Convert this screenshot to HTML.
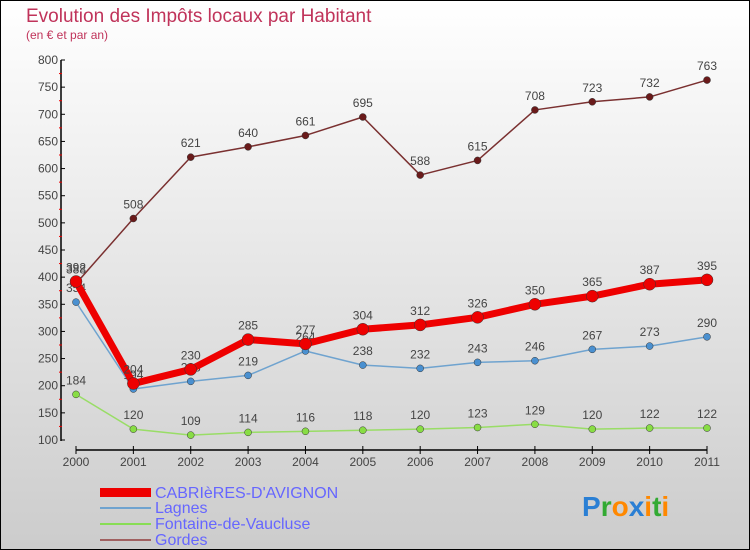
<!DOCTYPE html>
<html><head><meta charset="utf-8"><style>
body{margin:0}
#c{width:750px;height:550px;position:relative;overflow:hidden;font-family:"Liberation Sans",sans-serif}
</style></head><body>
<div id="c">
<svg id="s" width="750" height="550" xmlns="http://www.w3.org/2000/svg">
<defs><linearGradient id="bg" x1="0" y1="0" x2="0" y2="1"><stop offset="0" stop-color="#ffffff"/><stop offset="1" stop-color="#cccccc"/></linearGradient></defs>
<rect x="0.5" y="0.5" width="749" height="549" fill="url(#bg)" stroke="#000"/>
<text x="26" y="22" font-size="19" fill="#c0335a">Evolution des Impôts locaux par Habitant</text>
<text x="26" y="39" font-size="12" fill="#c0335a">(en € et par an)</text>
<g id="plot"></g>
<g id="legend">
<rect x="100" y="488" width="51" height="9" fill="#e00"/>
<text x="155" y="498" font-size="16" fill="#6666ff">CABRIèRES-D'AVIGNON</text>
<rect x="100" y="507" width="51" height="2" fill="#6fa3cf"/>
<text x="155" y="513" font-size="16" fill="#6666ff">Lagnes</text>
<rect x="100" y="523" width="51" height="2" fill="#88dd55"/>
<text x="155" y="529" font-size="16" fill="#6666ff">Fontaine-de-Vaucluse</text>
<rect x="100" y="539" width="51" height="2" fill="#a06060"/>
<text x="155" y="545" font-size="16" fill="#6666ff">Gordes</text>
</g>
<text x="582" y="516" font-size="28" font-weight="bold"><tspan fill="#2a7fd4">P</tspan><tspan fill="#33aa33">r</tspan><tspan fill="#ff8800">o</tspan><tspan fill="#2a7fd4">x</tspan><tspan fill="#ff8800">i</tspan><tspan fill="#33aa33">t</tspan><tspan fill="#ff8800">i</tspan></text>
</svg>
</div>
<script>
const years=["2000","2001","2002","2003","2004","2005","2006","2007","2008","2009","2010","2011"];
const yTicks=[100,150,200,250,300,350,400,450,500,550,600,650,700,750,800];
const cabrieres=[392,204,230,285,277,304,312,326,350,365,387,395];
const lagnes=[354,194,208,219,264,238,232,243,246,267,273,290];
const fontaine=[184,120,109,114,116,118,120,123,129,120,122,122];
const gordes=[388,508,621,640,661,695,588,615,708,723,732,763];
const NS="http://www.w3.org/2000/svg";
const g=document.getElementById('plot');
const X=i=>76+i*(707-76)/11;
const Y=v=>440-(v-100)*380/700;
function el(t,a,p){const e=document.createElementNS(NS,t);for(const k in a)e.setAttribute(k,a[k]);(p||g).appendChild(e);return e;}
let ax=el('line',{x1:61,y1:60,x2:61,y2:441,stroke:'#000','stroke-width':1.5});


let bx=el('line',{x1:76,y1:450,x2:707,y2:450,stroke:'#000','stroke-width':1.5});


yTicks.forEach((v,i)=>{
 el('line',{x1:61,y1:Y(v),x2:65,y2:Y(v),stroke:'#000'});
 if(i<yTicks.length-1)el('line',{x1:59,y1:Y(v+25),x2:62,y2:Y(v+25),stroke:'#e00'});
 const t=el('text',{x:58,y:Y(v)+4,'font-size':12,fill:'#444','text-anchor':'end'});t.textContent=v;
 
 
});
years.forEach((y,i)=>{
 el('line',{x1:X(i),y1:446,x2:X(i),y2:454,stroke:'#000'});
 const t=el('text',{x:X(i),y:466,'font-size':12,fill:'#444','text-anchor':'middle'});t.textContent=y;
 
 
});
function series(data,color,w,r,dot,name){
 const pl=el('polyline',{points:data.map((v,i)=>X(i)+','+Y(v)).join(' '),fill:'none',stroke:color,'stroke-width':w,'stroke-linejoin':'round'});
 
 
 data.forEach((v,i)=>{
  const c=el('circle',{cx:X(i),cy:Y(v),r:r,fill:dot,stroke:'#333','stroke-width':0.5});
  
  
  const t=el('text',{x:X(i),y:Y(v)-10,'font-size':12,fill:'#444','text-anchor':'middle'});t.textContent=v;
  
  
 });
}
series(gordes,'#7a3030',1.5,3.5,'#6a1a1a','gordes');
series(fontaine,'#99dd66',1.5,3.5,'#88dd44','fontaine');
series(lagnes,'#6fa3cf',1.5,3.5,'#4a90d0','lagnes');
series(cabrieres,'#ee0000',7,6,'#ee0000','cabrieres');
</script>
</body></html>
